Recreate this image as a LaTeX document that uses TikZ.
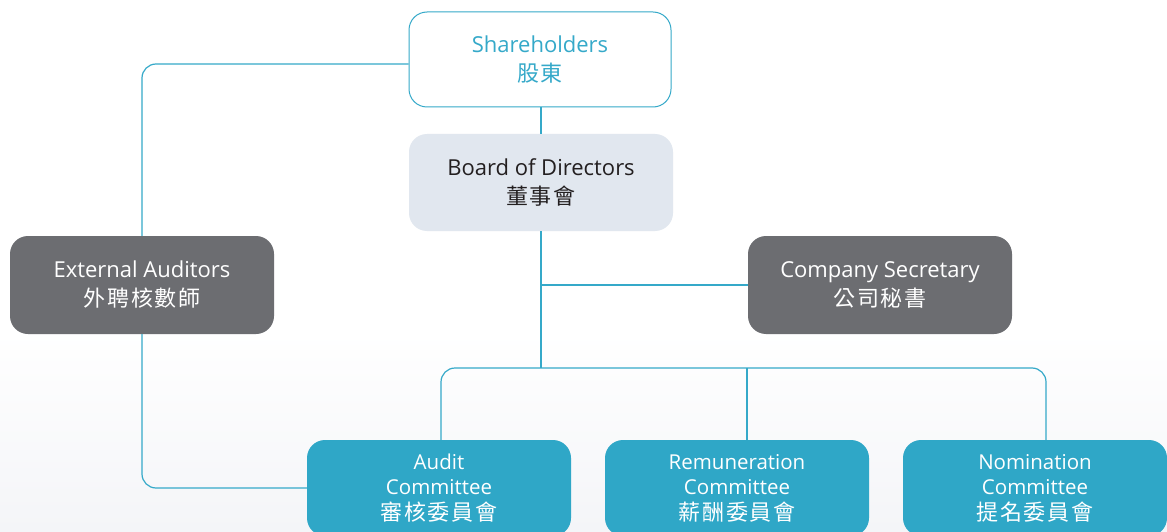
\documentclass[tikz,border=0pt]{standalone}
\usepackage{fontspec}
\setmainfont{Open Sans}
\newfontfamily\cjk[LetterSpace=8]{Noto Sans CJK TC}
\usetikzlibrary{calc}
\definecolor{linecol}{HTML}{35A9C9}
\definecolor{tealfill}{HTML}{2FA7C7}
\definecolor{boardfill}{HTML}{E1E7EF}
\definecolor{grayfill}{HTML}{6C6D71}
\definecolor{darktext}{HTML}{231F20}
\definecolor{bgbot}{HTML}{F4F5F8}
\newcommand{\zh}[1]{{\cjk\fontsize{22}{27}\selectfont #1}}
\begin{document}
\begin{tikzpicture}[x=1pt,y=-1pt,
  box/.style={rounded corners=18pt, minimum width=264pt, minimum height=97pt,
    align=center, inner sep=0pt, font=\fontsize{22}{29}\selectfont},
  topbox/.style={box, draw=linecol, line width=1pt, fill=white, text=linecol,
    minimum width=262pt, minimum height=95pt},
  boardbox/.style={box, fill=boardfill, text=darktext},
  graybox/.style={box, fill=grayfill, text=white, minimum height=98pt},
  combox/.style={box, fill=tealfill, text=white, minimum height=96pt,
    font=\fontsize{20.5}{25.5}\selectfont},
  link/.style={draw=linecol, line width=1.2pt, rounded corners=14pt}]
\useasboundingbox (0,0) rectangle (1167,532);
\clip (0,0) rectangle (1167,532);
\fill[white] (0,0) rectangle (1167,330);
\shade[top color=white, bottom color=bgbot] (0,330) rectangle (1167,532);

\node[topbox] (sh) at (540,59.5) {Shareholders\\\zh{股東}};
\node[boardbox] (bod) at (541,182.5) {Board of Directors\\\zh{董事會}};
\node[graybox] (ext) at (142,285) {External Auditors\\\zh{外聘核數師}};
\node[graybox] (sec) at (880,285) {Company Secretary\\\zh{公司秘書}};
\node[combox] (aud) at (439,488) {Audit\\Committee\\\zh{審核委員會}};
\node[combox] (rem) at (737,488) {Remuneration\\Committee\\\zh{薪酬委員會}};
\node[combox] (nom) at (1035,488) {Nomination\\Committee\\\zh{提名委員會}};

\coordinate (hub) at (541,368);
\coordinate (audtop) at ($(aud.north)+(2,0)$);
\coordinate (remtop) at ($(rem.north)+(10,0)$);
\coordinate (nomtop) at ($(nom.north)+(11,0)$);
\coordinate (shleft) at ($(sh.west)+(0,4.5)$);

\draw[link] (shleft) -| (ext.north);
\draw[link] (ext.south) |- (aud.west);
\draw[link] (sh.south -| bod.north) -- (bod.north);
\draw[link] (bod.south) -- (hub);
\draw[link] (bod.south |- sec.west) -- (sec.west);
\draw[link] (audtop) |- (hub) -| (nomtop);
\draw[link] (remtop) -- (remtop |- hub);
\end{tikzpicture}
\end{document}
